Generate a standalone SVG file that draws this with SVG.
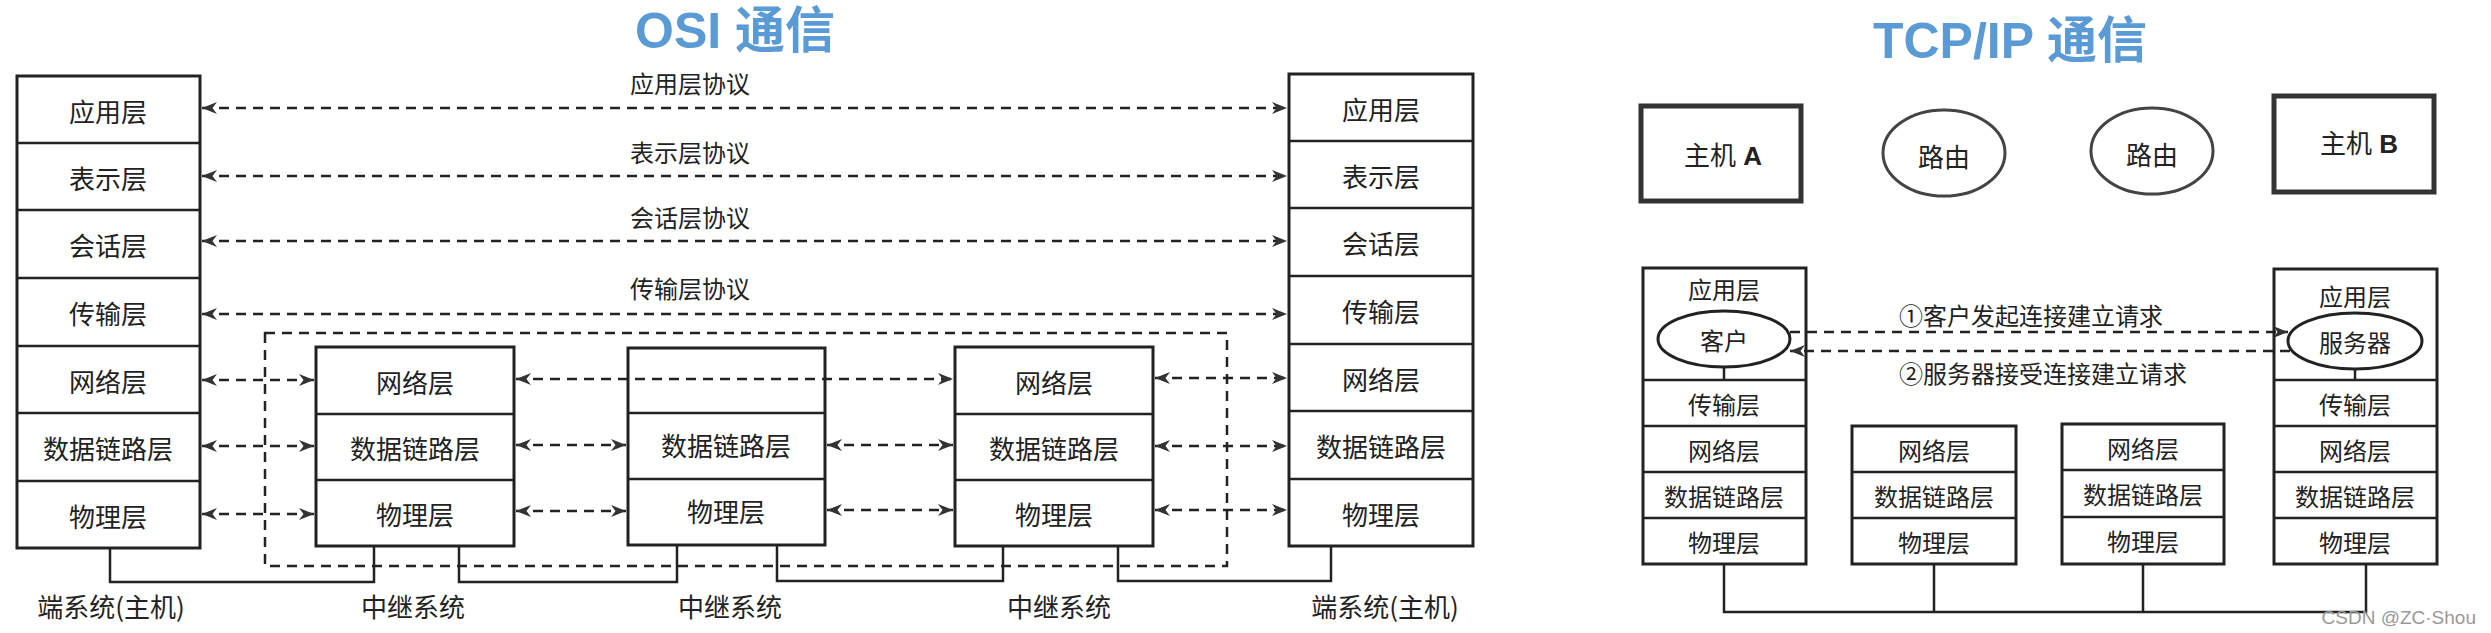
<svg xmlns="http://www.w3.org/2000/svg" width="2491" height="633" viewBox="0 0 2491 633">
<style>
.b{fill:#fff;stroke:#222;stroke-width:3}
.l{fill:none;stroke:#222;stroke-width:2.5}
.d{fill:none;stroke:#222;stroke-width:2.5;stroke-dasharray:10 7}
.m{marker-start:url(#a);marker-end:url(#a)}
.t{font-family:"Noto Sans CJK SC","Liberation Sans",sans-serif;font-size:26px;fill:#222;text-anchor:middle;dominant-baseline:central}
.s{font-size:24px}
.h{font-family:"Liberation Sans","Noto Sans CJK SC",sans-serif;font-weight:bold;font-size:50px;fill:#5b9bd5;text-anchor:middle}
</style>
<defs>
<marker id="a" viewBox="0 0 10 10" refX="10" refY="5" markerWidth="6" markerHeight="6" markerUnits="strokeWidth" orient="auto-start-reverse"><path d="M0,1 L10,5 L0,9 L3,5 Z" fill="#333"/></marker>
</defs>
<rect width="2491" height="633" fill="#fff"/>
<text class="h" x="735" y="48">OSI 通信</text>
<text class="h" x="2010" y="58">TCP/IP 通信</text>

<g id="osi-host-left">
<rect class="b" x="17" y="76" width="183" height="472"/>
<path class="l" d="M17 143H200M17 210H200M17 278H200M17 346H200M17 413H200M17 481H200"/>
<text class="t" x="108" y="110">应用层</text><text class="t" x="108" y="177">表示层</text><text class="t" x="108" y="244">会话层</text><text class="t" x="108" y="312">传输层</text><text class="t" x="108" y="380">网络层</text><text class="t" x="108" y="447">数据链路层</text><text class="t" x="108" y="515">物理层</text>
</g>
<g id="osi-host-right">
<rect class="b" x="1289" y="74" width="184" height="472"/>
<path class="l" d="M1289 141H1473M1289 208H1473M1289 276H1473M1289 344H1473M1289 411H1473M1289 479H1473"/>
<text class="t" x="1381" y="108">应用层</text><text class="t" x="1381" y="175">表示层</text><text class="t" x="1381" y="242">会话层</text><text class="t" x="1381" y="310">传输层</text><text class="t" x="1381" y="378">网络层</text><text class="t" x="1381" y="445">数据链路层</text><text class="t" x="1381" y="513">物理层</text>
</g>
<g id="relay1">
<rect class="b" x="316" y="347" width="198" height="199"/>
<path class="l" d="M316 414H514M316 480H514"/>
<text class="t" x="415" y="381">网络层</text><text class="t" x="415" y="447">数据链路层</text><text class="t" x="415" y="513">物理层</text>
</g>
<g id="relay2">
<rect class="b" x="628" y="348" width="197" height="197"/>
<path class="l" d="M628 413H825M628 479H825"/>
<text class="t" x="726" y="444">数据链路层</text><text class="t" x="726" y="510">物理层</text>
</g>
<g id="relay3">
<rect class="b" x="955" y="347" width="198" height="199"/>
<path class="l" d="M955 414H1153M955 480H1153"/>
<text class="t" x="1054" y="381">网络层</text><text class="t" x="1054" y="447">数据链路层</text><text class="t" x="1054" y="513">物理层</text>
</g>
<g id="osi-labels">
<text class="t s" x="690" y="82">应用层协议</text><text class="t s" x="690" y="151">表示层协议</text><text class="t s" x="690" y="216">会话层协议</text><text class="t s" x="690" y="287">传输层协议</text>
<text class="t" x="111" y="605">端系统(主机)</text><text class="t" x="413" y="605">中继系统</text><text class="t" x="730" y="605">中继系统</text><text class="t" x="1059" y="605">中继系统</text><text class="t" x="1385" y="605">端系统(主机)</text>
</g>
<g id="osi-connectors">
<rect class="d" x="265" y="333" width="962" height="233" stroke-width="2"/>
<path class="d m" d="M202 108H1287"/><path class="d m" d="M202 176H1287"/><path class="d m" d="M202 241H1287"/><path class="d m" d="M202 314H1287"/>
<path class="d m" d="M202 380H314"/><path class="d m" d="M202 446H314"/><path class="d m" d="M202 514H314"/>
<path class="d m" d="M516 379H953"/><path class="d m" d="M516 445H626"/><path class="d m" d="M516 511H626"/>
<path class="d m" d="M827 445H953"/><path class="d m" d="M827 510H953"/>
<path class="d m" d="M1155 378H1287"/><path class="d m" d="M1155 446H1287"/><path class="d m" d="M1155 510H1287"/>
<path class="l" d="M110 548V582H374V546M459 546V582H677V545M777 545V581H1003V546M1118 546V581H1331V546"/>
</g>

<g id="hostA"><rect x="1641" y="106" width="160" height="95" fill="#fff" stroke="#333" stroke-width="5"/><text class="t" x="1723" y="156" style="font-family:'Liberation Sans','Noto Sans CJK SC',sans-serif">主机 <tspan font-weight="bold">A</tspan></text></g>
<g id="router1"><ellipse cx="1944" cy="153" rx="61" ry="43" fill="#fff" stroke="#444" stroke-width="3"/><text class="t" x="1944" y="155">路由</text></g>
<g id="router2"><ellipse cx="2152" cy="151" rx="61" ry="43" fill="#fff" stroke="#444" stroke-width="3"/><text class="t" x="2152" y="153">路由</text></g>
<g id="hostB"><rect x="2274" y="96" width="160" height="96" fill="#fff" stroke="#333" stroke-width="5"/><text class="t" x="2359" y="144" style="font-family:'Liberation Sans','Noto Sans CJK SC',sans-serif">主机 <tspan font-weight="bold">B</tspan></text></g>

<g id="tcp-stack-A">
<rect class="b" x="1643" y="268" width="163" height="296"/>
<path class="l" d="M1643 380H1806M1643 426H1806M1643 472H1806M1643 518H1806M1724 367V380"/>
<text class="t s" x="1724" y="288">应用层</text>
<ellipse cx="1724" cy="339" rx="66" ry="28" fill="#fff" stroke="#222" stroke-width="3"/><text class="t s" x="1724" y="339">客户</text>
<text class="t s" x="1724" y="403">传输层</text><text class="t s" x="1724" y="449">网络层</text><text class="t s" x="1724" y="495">数据链路层</text><text class="t s" x="1724" y="541">物理层</text>
</g>
<g id="tcp-router1">
<rect class="b" x="1852" y="426" width="164" height="138"/>
<path class="l" d="M1852 472H2016M1852 518H2016"/>
<text class="t s" x="1934" y="449">网络层</text><text class="t s" x="1934" y="495">数据链路层</text><text class="t s" x="1934" y="541">物理层</text>
</g>
<g id="tcp-router2">
<rect class="b" x="2062" y="424" width="162" height="140"/>
<path class="l" d="M2062 470H2224M2062 517H2224"/>
<text class="t s" x="2143" y="447">网络层</text><text class="t s" x="2143" y="493">数据链路层</text><text class="t s" x="2143" y="540">物理层</text>
</g>
<g id="tcp-stack-B">
<rect class="b" x="2274" y="269" width="163" height="295"/>
<path class="l" d="M2274 380H2437M2274 426H2437M2274 472H2437M2274 518H2437M2355 369V380"/>
<text class="t s" x="2355" y="295">应用层</text>
<ellipse cx="2355" cy="341" rx="67" ry="28" fill="#fff" stroke="#222" stroke-width="3"/><text class="t s" x="2355" y="341">服务器</text>
<text class="t s" x="2355" y="403">传输层</text><text class="t s" x="2355" y="449">网络层</text><text class="t s" x="2355" y="495">数据链路层</text><text class="t s" x="2355" y="541">物理层</text>
</g>
<g id="tcp-connectors">
<path class="d" stroke-width="2" marker-end="url(#a)" d="M1790 332H2288"/>
<path class="d" stroke-width="2" marker-end="url(#a)" d="M2290 351H1790"/>
<path class="l" d="M1724 564V612H2366V564M1934 564V612M2143 564V612"/>
<text class="t s" x="2031" y="314">①客户发起连接建立请求</text>
<text class="t s" x="2043" y="372">②服务器接受连接建立请求</text>
</g>
<text x="2476" y="624" font-family="Liberation Sans,sans-serif" font-size="19" fill="#999" text-anchor="end">CSDN @ZC·Shou</text>
</svg>
